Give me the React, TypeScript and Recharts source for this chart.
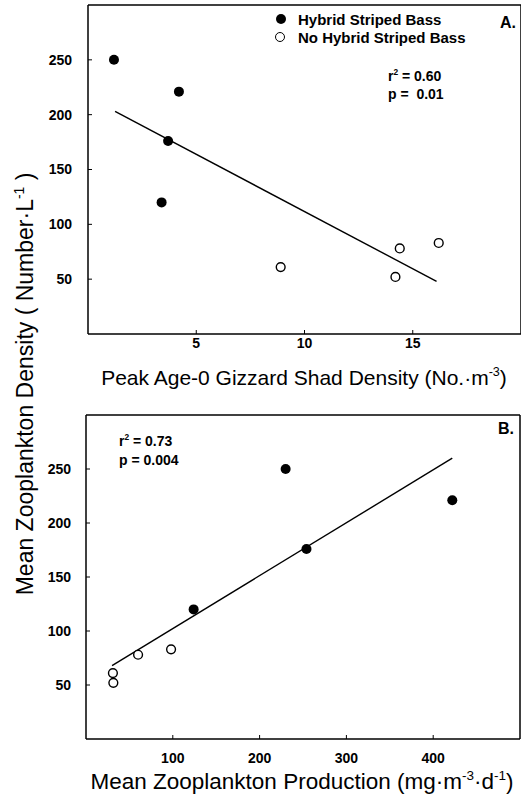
import { ReferenceLine, Scatter, ScatterChart, XAxis, YAxis } from "recharts";

// same lakes in both panels, same order
const hybridDensity = [250, 221, 176, 120];
const noHybridDensity = [61, 52, 78, 83];
const hybridShad = [1.2, 4.2, 3.7, 3.4];
const noHybridShad = [8.9, 14.2, 14.4, 16.2];
const hybridProduction = [230, 422, 254, 124];
const noHybridProduction = [31, 31.5, 60, 98];

const fitShadX = [1.25, 16.1];
const fitShadY = [203, 48];
const fitProductionX = [30, 422];
const fitProductionY = [68, 260];

const shadTicks = [5, 10, 15];
const productionTicks = [100, 200, 300, 400];
const densityTicks = [50, 100, 150, 200, 250];

const font = '"Liberation Sans", Arial, Helvetica, sans-serif';
const tickStyle = { fontSize: 14, fontWeight: 700, fill: "#000", fontFamily: font };
const lineProps = { stroke: "#000", strokeWidth: 1.5 };

const filledDot = (p: any) => <circle cx={p.cx} cy={p.cy} r={5} fill="#000" />;
const openDot = (p: any) => (
  <circle cx={p.cx} cy={p.cy} r={4.4} fill="#fff" stroke="#000" strokeWidth={1.4} />
);

function Panel({
  top,
  height,
  marginTop,
  marginRight,
  yWidth,
  xDomain,
  xTicks,
  hybridX,
  noHybridX,
  fitX,
  fitY,
  xTickMargin,
  yTickMargin,
}: {
  top: number;
  height: number;
  marginTop: number;
  marginRight: number;
  yWidth: number;
  xDomain: [number, number];
  xTicks: number[];
  hybridX: number[];
  noHybridX: number[];
  fitX: number[];
  fitY: number[];
  xTickMargin: number;
  yTickMargin: number;
}) {
  const hybrid = hybridX.map((x, i) => ({ x, y: hybridDensity[i] }));
  const noHybrid = noHybridX.map((x, i) => ({ x, y: noHybridDensity[i] }));
  return (
    <div style={{ position: "absolute", left: 0, top }}>
      <ScatterChart
        width={521}
        height={height}
        margin={{ top: marginTop, right: marginRight, bottom: 0, left: 0 }}
      >
        <XAxis
          type="number"
          dataKey="x"
          domain={xDomain}
          ticks={xTicks}
          height={56}
          tick={tickStyle}
          tickSize={-4}
          tickMargin={xTickMargin}
          axisLine={lineProps}
          tickLine={{ stroke: "#000", strokeWidth: 1 }}
          allowDataOverflow
        />
        <YAxis
          type="number"
          dataKey="y"
          domain={[0, 300]}
          ticks={densityTicks}
          width={yWidth}
          tick={tickStyle}
          tickSize={-4}
          tickMargin={yTickMargin}
          axisLine={lineProps}
          tickLine={{ stroke: "#000", strokeWidth: 1 }}
          allowDataOverflow
        />
        <ReferenceLine y={300} {...lineProps} />
        <ReferenceLine x={xDomain[1]} {...lineProps} />
        <ReferenceLine
          segment={[
            { x: fitX[0], y: fitY[0] },
            { x: fitX[1], y: fitY[1] },
          ]}
          stroke="#000"
          strokeWidth={1.4}
        />
        <Scatter data={hybrid} shape={filledDot} isAnimationActive={false} />
        <Scatter data={noHybrid} shape={openDot} isAnimationActive={false} />
      </ScatterChart>
    </div>
  );
}

const abs = (left: number, top: number, extra: any = {}) => ({
  position: "absolute" as const,
  left,
  top,
  lineHeight: 1,
  whiteSpace: "nowrap" as const,
  ...extra,
});

const sup = { fontSize: "0.6em", verticalAlign: "0.7em" };
const bold = { fontWeight: 700, fontSize: 14 };

export default function App() {
  return (
    <div
      style={{
        position: "absolute",
        left: 0,
        top: 0,
        width: 521,
        height: 795,
        background: "#fff",
        fontFamily: font,
        color: "#000",
        overflow: "hidden",
      }}
    >
      <Panel
        top={0}
        height={390}
        marginTop={5}
        marginRight={0}
        yWidth={88}
        xDomain={[0, 20]}
        xTicks={shadTicks}
        hybridX={hybridShad}
        noHybridX={noHybridShad}
        fitX={fitShadX}
        fitY={fitShadY}
        xTickMargin={8}
        yTickMargin={20}
      />
      <Panel
        top={390}
        height={405}
        marginTop={25}
        marginRight={1}
        yWidth={86}
        xDomain={[0, 500]}
        xTicks={productionTicks}
        hybridX={hybridProduction}
        noHybridX={noHybridProduction}
        fitX={fitProductionX}
        fitY={fitProductionY}
        xTickMargin={18}
        yTickMargin={19}
      />

      {/* legend, panel A */}
      <div style={abs(276, 14, { width: 10, height: 10, borderRadius: 5, background: "#000" })} />
      <div
        style={abs(275, 32, {
          width: 8,
          height: 8,
          borderRadius: 5,
          border: "1.4px solid #000",
        })}
      />
      <div style={abs(298, 12, { fontWeight: 700, fontSize: 15 })}>Hybrid Striped Bass</div>
      <div style={abs(298, 30, { fontWeight: 700, fontSize: 15 })}>No Hybrid Striped Bass</div>
      <div style={abs(500, 15, { fontWeight: 700, fontSize: 16 })}>A.</div>

      <div style={abs(388, 68, bold)}>
        r<span style={sup}>2</span> = 0.60
      </div>
      <div style={abs(388, 87, bold)}>p =&nbsp; 0.01</div>

      <div style={abs(498, 421, { fontWeight: 700, fontSize: 16 })}>B.</div>
      <div style={abs(119, 433, bold)}>
        r<span style={sup}>2</span> = 0.73
      </div>
      <div style={abs(119, 453, bold)}>p = 0.004</div>

      {/* axis titles */}
      <div style={abs(304, 377, { fontSize: 21, transform: "translate(-50%, -50%)" })}>
        Peak Age-0 Gizzard Shad Density (No.·m<span style={sup}>-3</span>)
      </div>
      <div style={abs(302, 781, { fontSize: 22.5, transform: "translate(-50%, -50%)" })}>
        Mean Zooplankton Production (mg·m<span style={sup}>-3</span>·d<span style={sup}>-1</span>)
      </div>
      <div
        style={abs(25, 384, {
          fontSize: 23,
          transform: "translate(-50%, -50%) rotate(-90deg)",
        })}
      >
        Mean Zooplankton Density ( Number·L<span style={sup}>-1</span> )
      </div>
    </div>
  );
}
